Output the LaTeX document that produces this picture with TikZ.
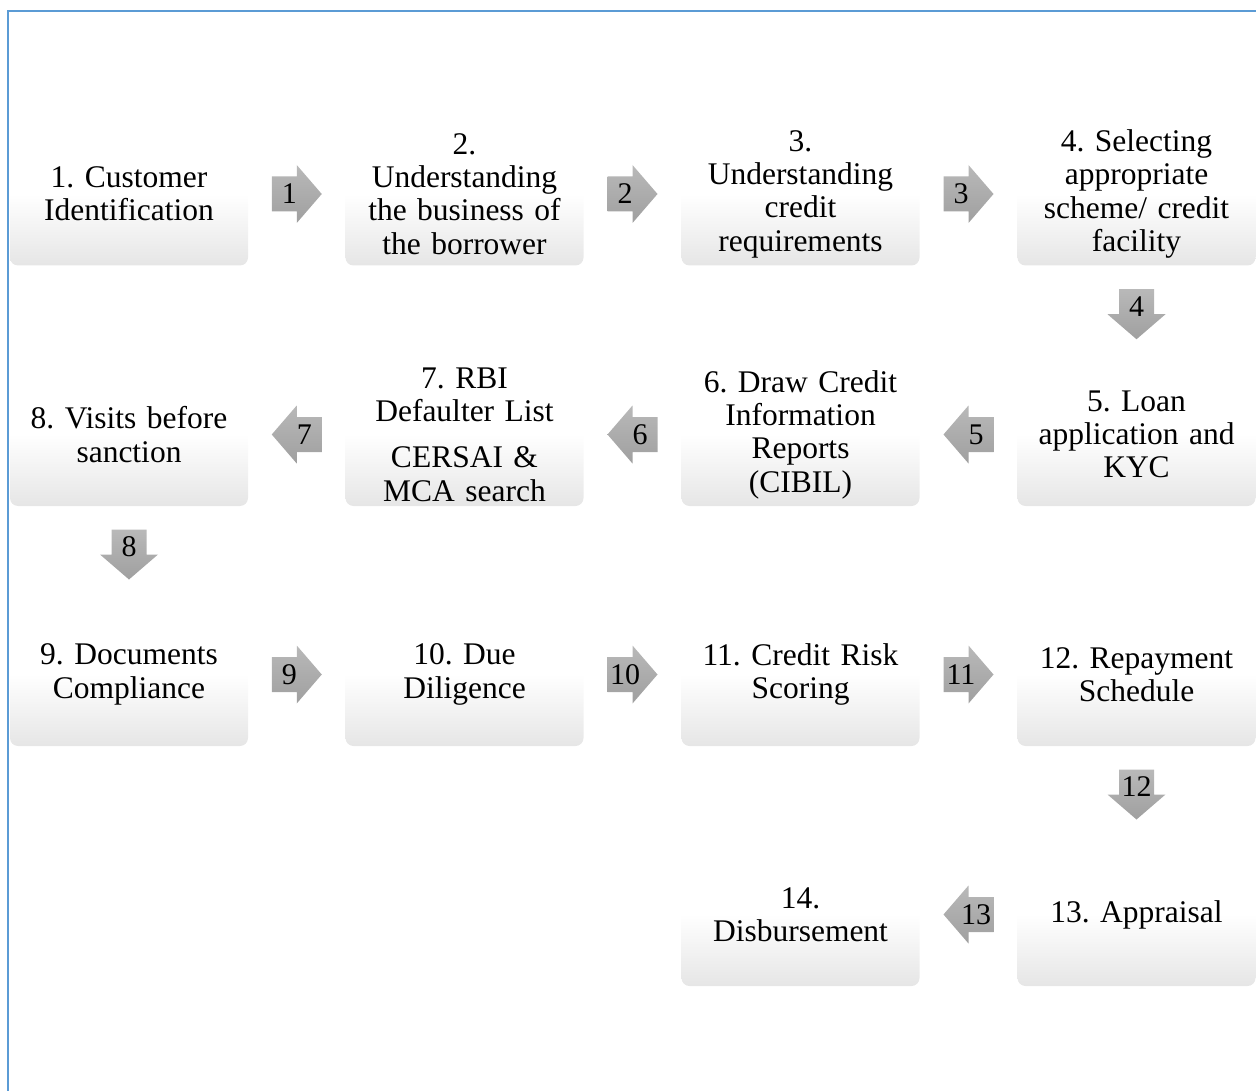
\documentclass[tikz,border=0pt]{standalone}
\usepackage{fontspec}
\setmainfont{Liberation Serif}
\usetikzlibrary{calc}
\definecolor{frameblue}{HTML}{5B9BD5}
\frenchspacing

\begin{document}
\begin{tikzpicture}[x=1pt,y=-1pt,
  stepbox/.style={rounded corners=8pt,minimum width=238pt,minimum height=143pt,
    text width=226pt,align=center,inner sep=0pt,
    top color=white,bottom color=black!10,middle color=white,
    font=\fontsize{31.5}{33.3}\selectfont},
  arrownum/.style={inner sep=0pt,font=\fontsize{30}{30}\selectfont},
  arrowfill/.style={top color=gray!55,bottom color=gray!75,draw=none},
  flowarrow/.pic={
    \shade[arrowfill] (-25,-17.5) -- (0,-17.5) -- (0,-29) -- (25,0) -- (0,29) -- (0,17.5) -- (-25,17.5) -- cycle;
    \node[arrownum] (-num) at (-7.5,0) {#1};
  }]
\useasboundingbox (0,0) rectangle (1256,1091);
\draw[frameblue,line width=2pt] (1256,11) -- (8,11) -- (8,1091);

% row 1
\node[stepbox] (s1) at (129,194) {1. Customer\\Identification};
\node[stepbox] (s2) at (464.5,194) {2.\\Understanding\\the business of\\the borrower};
\node[stepbox] (s3) at (800.5,194) {3.\\Understanding\\credit\\requirements};
\node[stepbox] (s4) at (1136.5,194) {4. Selecting\\appropriate\\scheme/ credit\\facility};
% row 2
\node[stepbox] (s5) at (1136.5,434.5) {5. Loan\\application and\\KYC};
\node[stepbox] (s6) at (800.5,434.5) {6. Draw Credit\\Information\\Reports\\(CIBIL)};
\node[stepbox] (s7) at (464.5,434.5) {7. RBI\\Defaulter List\\[13pt]CERSAI \&\\MCA search};
\node[stepbox] (s8) at (129,434.5) {8. Visits before\\sanction};
% row 3
\node[stepbox] (s9) at (129,674.5) {9. Documents\\Compliance};
\node[stepbox] (s10) at (464.5,674.5) {10. Due\\Diligence};
\node[stepbox] (s11) at (800.5,674.5) {11. Credit Risk\\Scoring};
\node[stepbox] (s12) at (1136.5,674.5) {12. Repayment\\Schedule};
% row 4
\node[stepbox] (s13) at (1136.5,914.5) {13. Appraisal};
\node[stepbox] (s14) at (800.5,914.5) {14.\\Disbursement};

% arrows
\pic (a1) at ($(s1.east)!0.5!(s2.west)$) {flowarrow=1};
\pic (a2) at ($(s2.east)!0.5!(s3.west)$) {flowarrow=2};
\pic (a3) at ($(s3.east)!0.5!(s4.west)$) {flowarrow=3};
\pic[rotate=-90] (a4) at ($(s4.south)!0.5!(s5.north)$) {flowarrow=4};
\pic[rotate=180] (a5) at ($(s5.west)!0.5!(s6.east)$) {flowarrow=5};
\pic[rotate=180] (a6) at ($(s6.west)!0.5!(s7.east)$) {flowarrow=6};
\pic[rotate=180] (a7) at ($(s7.west)!0.5!(s8.east)$) {flowarrow=7};
\pic[rotate=-90] (a8) at ($(s8.south)!0.5!(s9.north)$) {flowarrow=8};
\pic (a9) at ($(s9.east)!0.5!(s10.west)$) {flowarrow=9};
\pic (a10) at ($(s10.east)!0.5!(s11.west)$) {flowarrow=10};
\pic (a11) at ($(s11.east)!0.5!(s12.west)$) {flowarrow=11};
\pic[rotate=-90] (a12) at ($(s12.south)!0.5!(s13.north)$) {flowarrow=12};
\pic[rotate=180] (a13) at ($(s13.west)!0.5!(s14.east)$) {flowarrow=13};
\end{tikzpicture}
\end{document}
